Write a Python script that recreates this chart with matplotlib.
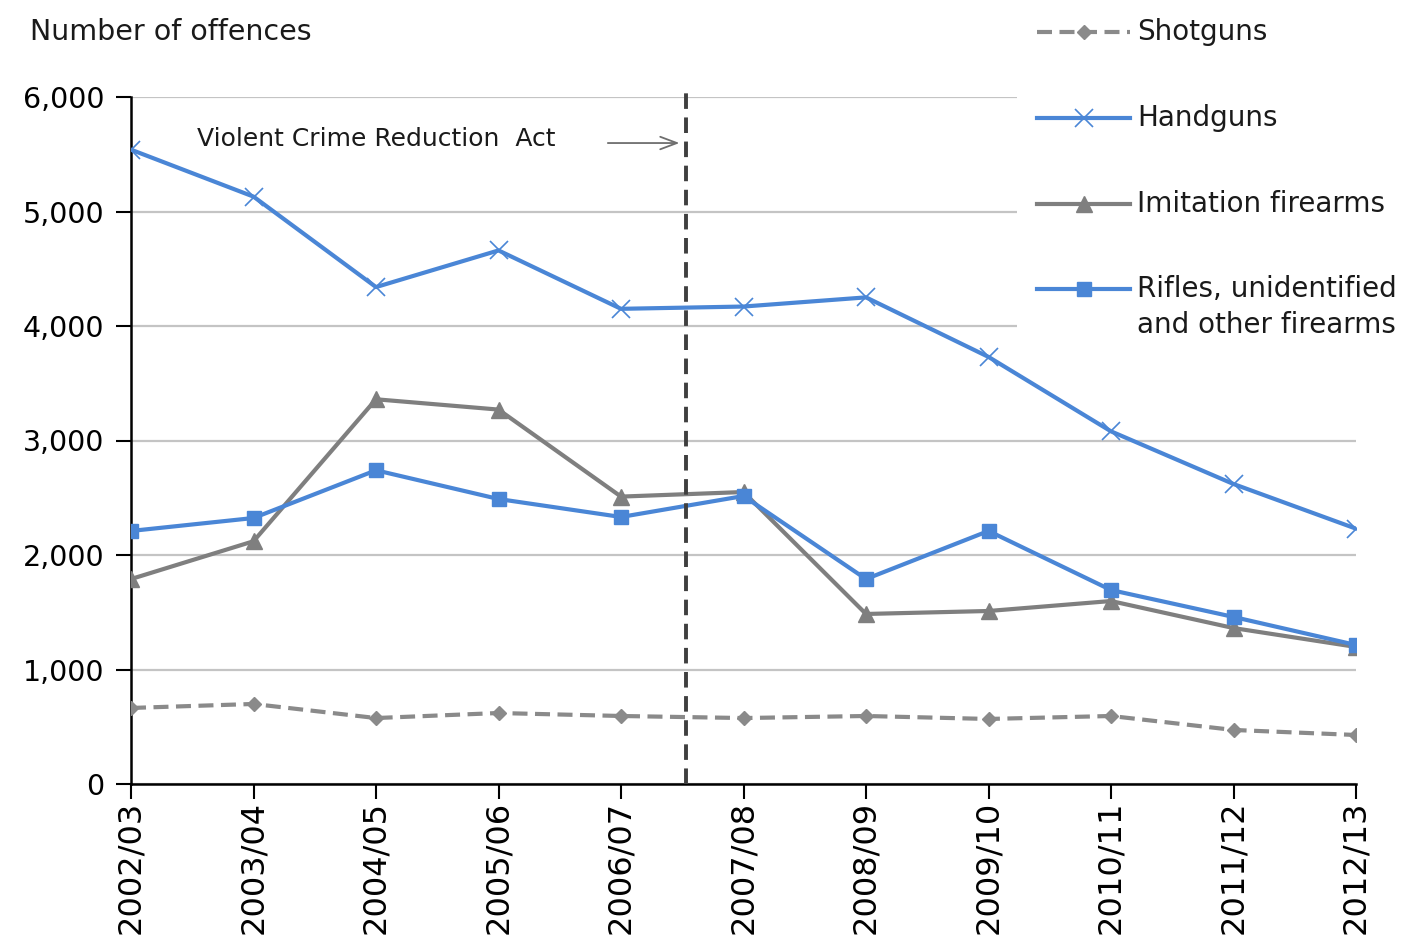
import matplotlib
matplotlib.use("Agg")
import matplotlib.pyplot as plt
from matplotlib.lines import Line2D
from matplotlib.patches import Rectangle

plt.rcParams['font.family'] = ['DejaVu Sans']

years = ["2002/03", "2003/04", "2004/05", "2005/06", "2006/07", "2007/08",
         "2008/09", "2009/10", "2010/11", "2011/12", "2012/13"]
shotguns = [664, 699, 576, 620, 594, 576, 594, 568, 594, 472, 428]
handguns = [5540, 5130, 4340, 4660, 4150, 4170, 4250, 3730, 3080, 2620, 2230]
imitation = [1790, 2120, 3360, 3270, 2510, 2550, 1485, 1511, 1598, 1362, 1197]
rifles = [2210, 2323, 2740, 2489, 2332, 2515, 1790, 2210, 1694, 1459, 1214]
yticks = [0, 1000, 2000, 3000, 4000, 5000, 6000]
act_position = 4.53
act_label = "Violent Crime Reduction  Act"

BLUE = "#4a86d6"
GRAY = "#7f7f7f"
SGRAY = "#8a8a8a"

W, H = 1408, 935
fig = plt.figure(figsize=(W / 100, H / 100), dpi=100)
ax = fig.add_axes([131 / W, (H - 784) / H, (1356 - 131) / W, (784 - 97) / H])

shot_style = dict(color=SGRAY, lw=3, ls=(0, (3.6, 1.8)), marker='D', ms=7,
                  mfc=SGRAY, mec=SGRAY)
hand_style = dict(color=BLUE, lw=3, marker='x', ms=13, mew=1.2, mec=BLUE)
imit_style = dict(color=GRAY, lw=3, marker='^', ms=11, mfc=GRAY, mec=GRAY)
rifl_style = dict(color=BLUE, lw=3, marker='s', ms=10, mfc=BLUE, mec=BLUE)

x = list(range(len(years)))
ax.plot(x, shotguns, zorder=3, **shot_style)
ax.plot(x, imitation, zorder=3, **imit_style)
ax.plot(x, handguns, zorder=4, **hand_style)
ax.plot(x, rifles, zorder=4, **rifl_style)

ax.set_xlim(0, len(years) - 1)
ax.set_ylim(0, 6000)
ax.set_yticks(yticks)
ax.set_yticklabels([f"{v:,}" for v in yticks], fontsize=20.5)
ax.set_xticks(x)
ax.set_xticklabels(years, rotation=90, fontsize=23)
ax.tick_params(axis='both', direction='out', length=11, width=1.5, color='black')
ax.tick_params(axis='y', pad=8)
ax.tick_params(axis='x', pad=1)

for s in ['top', 'right']:
    ax.spines[s].set_visible(False)
for s in ['left', 'bottom']:
    ax.spines[s].set_linewidth(1.8)
    ax.spines[s].set_color('black')

ax.yaxis.grid(True, color='#c4c4c4', lw=1.6)
ax.set_axisbelow(True)

# white box covering gridlines behind the legend
ax.add_patch(Rectangle(((1017 - 131) / 1225, (784 - 345) / 687), 1, 1,
                       transform=ax.transAxes, facecolor='white',
                       edgecolor='none', zorder=1.5, clip_on=False))

# vertical dashed line for the Act
ax.plot([act_position, act_position], [0, 6060], color='#3f3f3f', lw=2.8,
        ls=(0, (4, 2.2)), clip_on=False, zorder=5)
ax.annotate("", xy=(act_position - 0.03, 5598), xytext=(act_position - 0.66, 5598),
            arrowprops=dict(arrowstyle='->,head_length=1.2,head_width=0.45',
                            color='#6e6e6e', lw=1.3))
ax.text(0.54, 5633, act_label, fontsize=18, va='center', ha='left', color='#1a1a1a')

fig.text(30 / W, 1 - 32 / H, "Number of offences", fontsize=20.5,
         va='center', ha='left', color='#1a1a1a')

# legend drawn manually
entries = [
    (32, shot_style, "Shotguns"),
    (118, hand_style, "Handguns"),
    (204, imit_style, "Imitation firearms"),
    (289, rifl_style, "Rifles, unidentified"),
]
for ypx, style, label in entries:
    yf = 1 - ypx / H
    line_kw = {k: v for k, v in style.items() if k not in ('marker', 'ms', 'mfc', 'mec', 'mew')}
    fig.add_artist(Line2D([1037 / W, 1130 / W], [yf, yf], transform=fig.transFigure,
                          **line_kw))
    mk_kw = {k: v for k, v in style.items() if k not in ('ls', 'lw')}
    fig.add_artist(Line2D([1083.5 / W], [yf], transform=fig.transFigure,
                          linestyle='none', **mk_kw))
    fig.text(1137 / W, yf, label, fontsize=20, va='center', ha='left', color='#1a1a1a')
fig.text(1137 / W, 1 - 325 / H, "and other firearms", fontsize=20, va='center',
         ha='left', color='#1a1a1a')

fig.savefig("out.png", dpi=100, facecolor='white')
